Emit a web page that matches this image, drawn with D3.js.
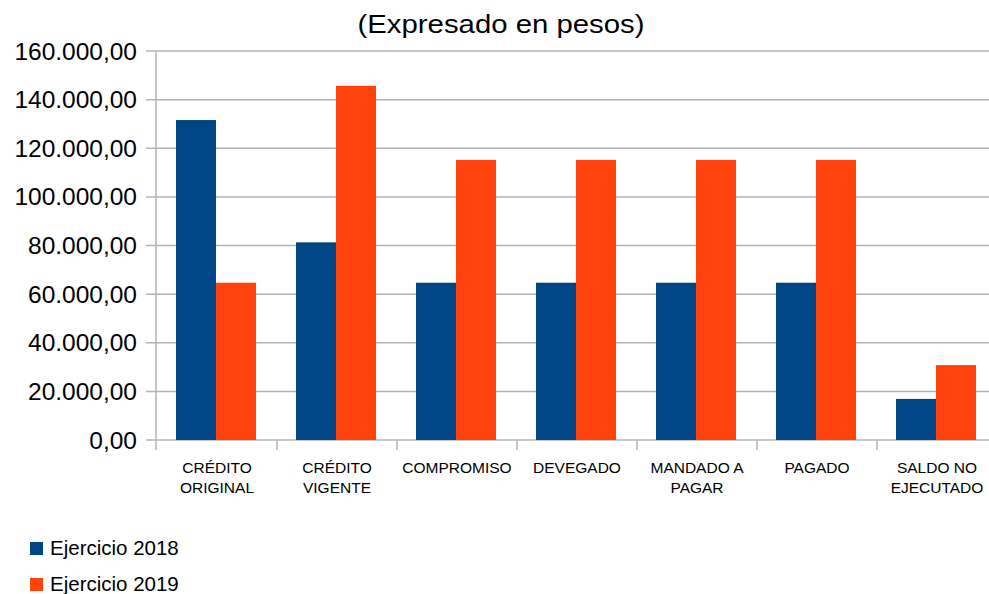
<!DOCTYPE html>
<html>
<head>
<meta charset="utf-8">
<script src="https://cdn.jsdelivr.net/npm/d3@7"></script>
<style>
  html, body { margin: 0; padding: 0; background: #fff; }
  svg { display: block; font-family: "Liberation Sans", Arial, sans-serif; }
</style>
</head>
<body>
<svg id="chart" width="989" height="594"></svg>
<script>
const categories = ["CRÉDITO ORIGINAL", "CRÉDITO VIGENTE", "COMPROMISO", "DEVEGADO", "MANDADO A PAGAR", "PAGADO", "SALDO NO EJECUTADO"];
const seriesNames = ["Ejercicio 2018", "Ejercicio 2019"];
const values2018 = [131600, 81300, 64700, 64700, 64700, 64700, 16900];
const values2019 = [64700, 145700, 115200, 115200, 115200, 115200, 30800];
const yTicks = [0, 20000, 40000, 60000, 80000, 100000, 120000, 140000, 160000];
const colors = ["#004586", "#ff420e"];
const title = "(Expresado en pesos)";

const seriesValues = [values2018, values2019];
const svg = d3.select("#chart");

const locale = d3.formatLocale({ decimal: ",", thousands: ".", grouping: [3], currency: ["$", ""] });
const fmt = locale.format(",.2f");

const plot = { left: 157, right: 997, top: 51, bottom: 440 };

const x = d3.scaleBand().domain(categories).range([plot.left, plot.right]).padding(0);
const xInner = d3.scaleBand().domain(seriesNames).range([19, 99]).padding(0);
const y = d3.scaleLinear().domain([0, 160000]).range([plot.bottom, plot.top]);

// gridlines
svg.append("g")
  .selectAll("line")
  .data(yTicks)
  .join("line")
  .attr("x1", plot.left - 11)
  .attr("x2", plot.right)
  .attr("y1", d => y(d))
  .attr("y2", d => y(d))
  .attr("stroke", "#b3b3b3")
  .attr("stroke-width", 1.5);

// y axis line
svg.append("line")
  .attr("x1", plot.left - 1).attr("x2", plot.left - 1)
  .attr("y1", plot.top).attr("y2", plot.bottom + 10)
  .attr("stroke", "#b3b3b3").attr("stroke-width", 1.5);

// x category ticks
svg.append("g")
  .selectAll("line")
  .data(categories.slice(1))
  .join("line")
  .attr("x1", d => x(d))
  .attr("x2", d => x(d))
  .attr("y1", plot.bottom)
  .attr("y2", plot.bottom + 10)
  .attr("stroke", "#b3b3b3").attr("stroke-width", 1.5);

// y labels
svg.append("g")
  .selectAll("text")
  .data(yTicks)
  .join("text")
  .attr("x", 137)
  .attr("y", d => y(d))
  .attr("dy", "0.35em")
  .attr("text-anchor", "end")
  .attr("font-size", 24.5)
  .attr("fill", "#000")
  .text(d => fmt(d));

// bars
const groups = svg.append("g")
  .selectAll("g")
  .data(categories)
  .join("g")
  .attr("transform", d => `translate(${x(d)},0)`);

groups.selectAll("rect")
  .data((c, i) => seriesNames.map((s, si) => ({ s, v: seriesValues[si][i], si })))
  .join("rect")
  .attr("x", d => xInner(d.s))
  .attr("width", xInner.bandwidth())
  .attr("y", d => y(d.v))
  .attr("height", d => y(0) - y(d.v))
  .attr("fill", d => colors[d.si]);

// category labels with wrapping
function wrapWords(text, maxW, fontSize) {
  const ctx = document.createElement("canvas").getContext("2d");
  ctx.font = `${fontSize}px "Liberation Sans", Arial, sans-serif`;
  const words = text.split(" ");
  const lines = [];
  let cur = "";
  words.forEach(w => {
    const t = cur ? cur + " " + w : w;
    if (ctx.measureText(t).width > maxW && cur) { lines.push(cur); cur = w; }
    else cur = t;
  });
  if (cur) lines.push(cur);
  return lines;
}
const catFont = 15.5;
const catLabels = svg.append("g")
  .selectAll("text")
  .data(categories)
  .join("text")
  .attr("text-anchor", "middle")
  .attr("font-size", catFont)
  .attr("fill", "#000");
catLabels.each(function(d) {
  const lines = wrapWords(d, 112, catFont);
  d3.select(this).selectAll("tspan")
    .data(lines)
    .join("tspan")
    .attr("x", x(d) + x.bandwidth() / 2)
    .attr("y", (l, i) => 473 + i * 20)
    .text(l => l);
});

// title
svg.append("text")
  .attr("x", 501)
  .attr("y", 33)
  .attr("text-anchor", "middle")
  .attr("font-size", 26)
  .attr("fill", "#000")
  .attr("textLength", 287)
  .attr("lengthAdjust", "spacingAndGlyphs")
  .text(title);

// legend
const legend = svg.append("g")
  .selectAll("g")
  .data(seriesNames)
  .join("g")
  .attr("transform", (d, i) => `translate(30,${542 + i * 36})`);
legend.append("rect")
  .attr("width", 13).attr("height", 13)
  .attr("fill", (d, i) => colors[i]);
legend.append("text")
  .attr("x", 20)
  .attr("y", 13)
  .attr("font-size", 20.5)
  .attr("fill", "#000")
  .text(d => d);
</script>
</body>
</html>
